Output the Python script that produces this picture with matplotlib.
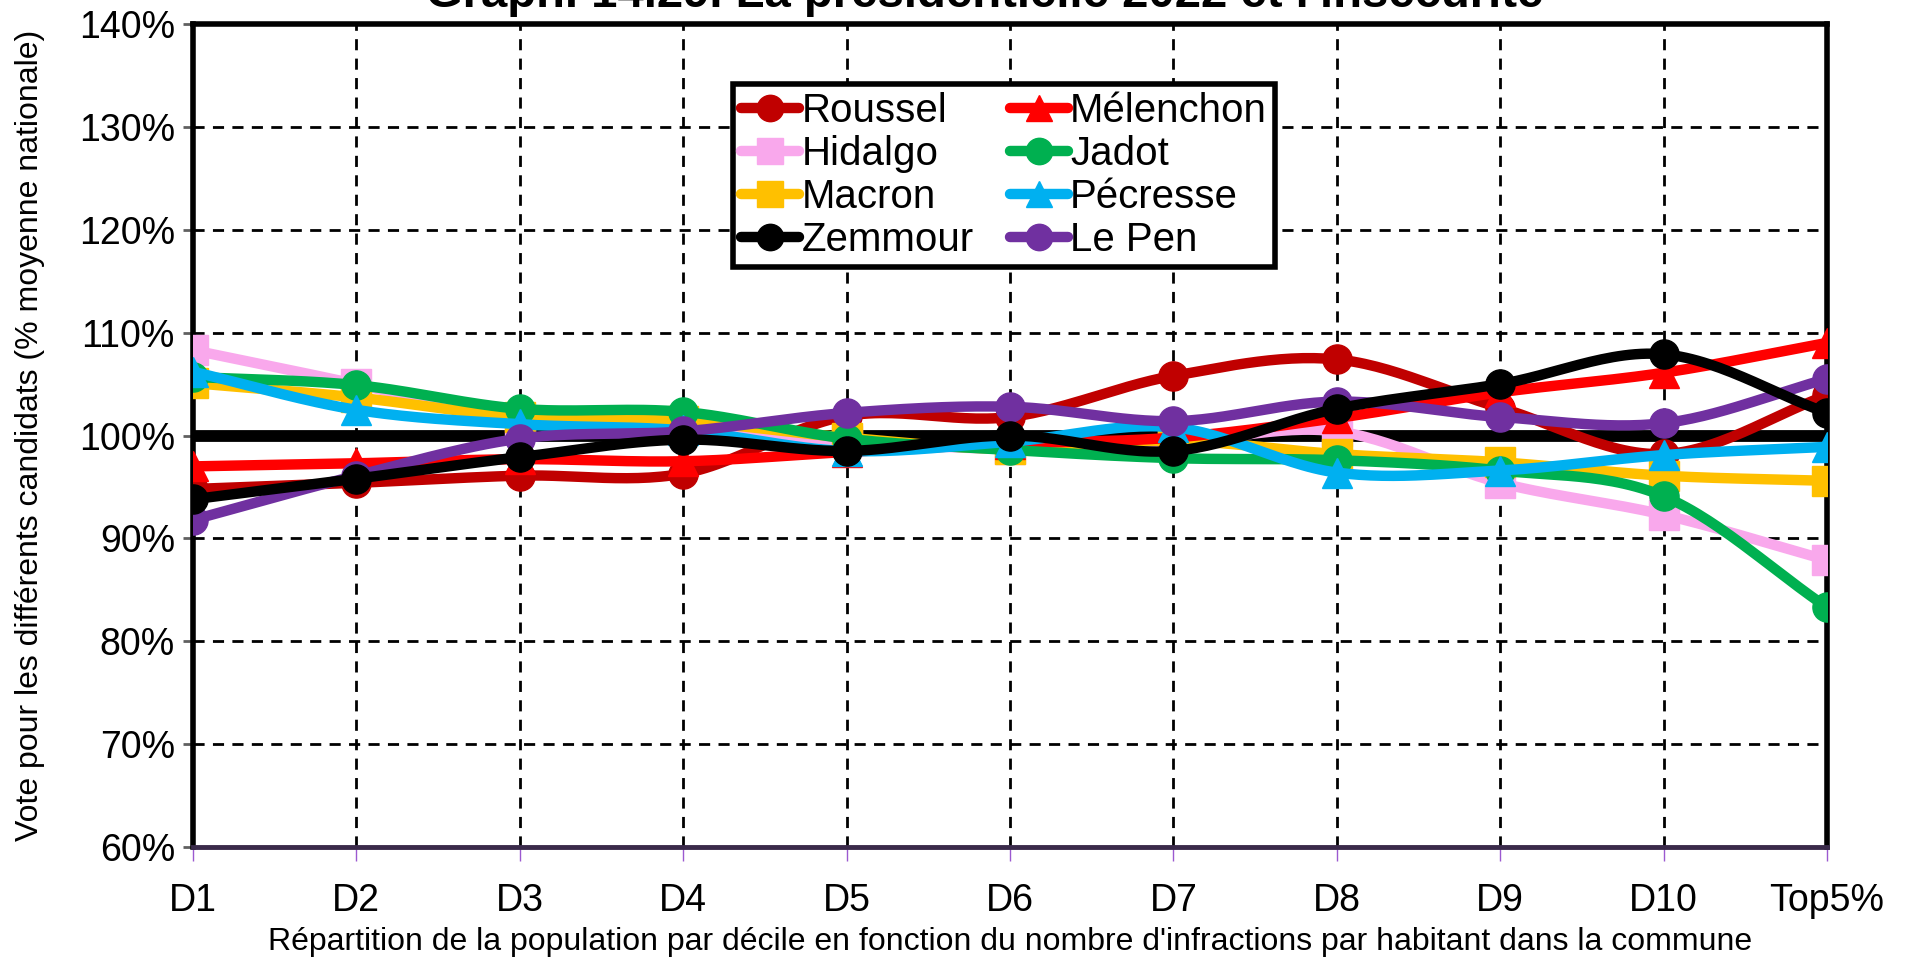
import matplotlib
matplotlib.use("Agg")
import matplotlib.pyplot as plt
import numpy as np

plt.rcParams['font.family'] = ['Liberation Sans', 'DejaVu Sans']

deciles = ["D1", "D2", "D3", "D4", "D5", "D6", "D7", "D8", "D9", "D10", "Top5%"]

roussel   = [94.8, 95.4, 96.1, 96.3, 101.9, 101.8, 105.8, 107.4, 102.7, 98.2, 103.9]
melenchon = [97.0, 97.3, 97.7, 97.5, 98.4, 99.2, 99.8, 101.7, 104.2, 106.1, 109.0]
hidalgo   = [108.3, 105.0, 101.4, 100.8, 99.5, 98.7, 99.3, 100.4, 95.4, 92.3, 87.9]
jadot     = [105.7, 104.9, 102.6, 102.3, 99.7, 98.6, 97.8, 97.6, 96.6, 94.1, 83.3]
macron    = [105.1, 103.7, 101.8, 101.4, 99.8, 98.7, 99.5, 98.2, 97.4, 96.1, 95.6]
pecresse  = [106.2, 102.5, 101.1, 100.5, 98.5, 99.4, 100.8, 96.4, 96.6, 98.1, 98.9]
zemmour   = [93.8, 95.8, 97.9, 99.6, 98.5, 100.0, 98.5, 102.6, 105.0, 107.9, 102.2]
le_pen    = [91.8, 96.1, 99.7, 100.4, 102.2, 102.8, 101.4, 103.3, 101.8, 101.2, 105.5]

names = ["Roussel", "Hidalgo", "Macron", "Zemmour", "Mélenchon", "Jadot", "Pécresse", "Le Pen"]
series = [roussel, hidalgo, macron, zemmour, melenchon, jadot, pecresse, le_pen]
colors = ["#c00000", "#f9a8ec", "#ffc000", "#000000", "#ff0000", "#00b050", "#00b0f0", "#7030a0"]
markers = ["o", "s", "s", "o", "^", "o", "^", "o"]
# z order so that the drawing order looks like the original
zorders = [3, 4, 5, 10, 6, 7, 8, 9]


def smooth(x, y, n=30):
    # catmull-rom style smoothing, like Excel's "smoothed line"
    x = np.asarray(x, float)
    y = np.asarray(y, float)
    px = np.concatenate([[2 * x[0] - x[1]], x, [2 * x[-1] - x[-2]]])
    py = np.concatenate([[2 * y[0] - y[1]], y, [2 * y[-1] - y[-2]]])
    xs, ys = [], []
    t = np.linspace(0, 1, n)
    for i in range(1, len(px) - 2):
        for p, out in ((px, xs), (py, ys)):
            p0, p1, p2, p3 = p[i - 1], p[i], p[i + 1], p[i + 2]
            m1 = (p2 - p0) / 6.0
            m2 = (p3 - p1) / 6.0
            c = ((1 - t) ** 3 * p1 + 3 * (1 - t) ** 2 * t * (p1 + m1)
                 + 3 * (1 - t) * t ** 2 * (p2 - m2) + t ** 3 * p2)
            out.extend(c)
    return np.array(xs), np.array(ys)


fig = plt.figure(figsize=(19.16, 9.61), dpi=100)
ax = fig.add_axes([0.1007, 0.1186, 0.8528, 0.8564])

x = np.arange(len(deciles))
for nm, s, c, m, z in zip(names, series, colors, markers, zorders):
    sx, sy = smooth(x, s)
    ax.plot(sx, sy, color=c, lw=7.5, zorder=z, solid_capstyle='round')
    ax.plot(x, s, linestyle='none', marker=m, ms=21, color=c, zorder=z)
    # legend proxy
    ax.plot([], [], color=c, lw=7.5, marker=m, ms=19, label=nm, solid_capstyle='round')

ax.plot([x[0], x[-1]], [100, 100], color='black', lw=8.5, zorder=2)

ax.set_xlim(0, len(deciles) - 1)
ax.set_ylim(60, 140)
ax.set_xticks(x)
ax.set_xticklabels(deciles, fontsize=27)
yt = np.arange(60, 141, 10)
ax.set_yticks(yt)
ax.set_yticklabels([f"{v}%" for v in yt], fontsize=27)
ax.tick_params(axis='x', colors='#9b59d0', length=10, width=1, pad=16, labelcolor='black')
ax.tick_params(axis='y', colors='#606060', length=7, width=2, pad=6, labelcolor='black')

ax.grid(True, color='black', linestyle=(0, (4, 3)), lw=2, zorder=1)
for side in ['left', 'top', 'right']:
    ax.spines[side].set_linewidth(4)
    ax.spines[side].set_color('black')
ax.spines['bottom'].set_linewidth(3.5)
ax.spines['bottom'].set_color('#3a2a4a')

ax.set_xlabel("Répartition de la population par décile en fonction du nombre d'infractions par habitant dans la commune",
              fontsize=23, labelpad=6)
ax.set_ylabel("Vote pour les différents candidats (% moyenne nationale)", fontsize=23, labelpad=24)

leg = ax.legend(ncol=2, loc='upper left', bbox_to_anchor=(0.3305, 0.927), fontsize=29,
                frameon=True, fancybox=False, edgecolor='black', framealpha=1,
                handlelength=1.45, handletextpad=0.05, columnspacing=0.9,
                labelspacing=0.12, borderpad=0.2, borderaxespad=0)
leg.get_frame().set_linewidth(4)
leg.set_zorder(20)

fig.text(0.514, 0.993, "Graph. 14.29. La présidentielle 2022 et l'insécurité",
         fontsize=34, fontweight='bold', ha='center', va='baseline')

fig.savefig("out.png", dpi=100)
